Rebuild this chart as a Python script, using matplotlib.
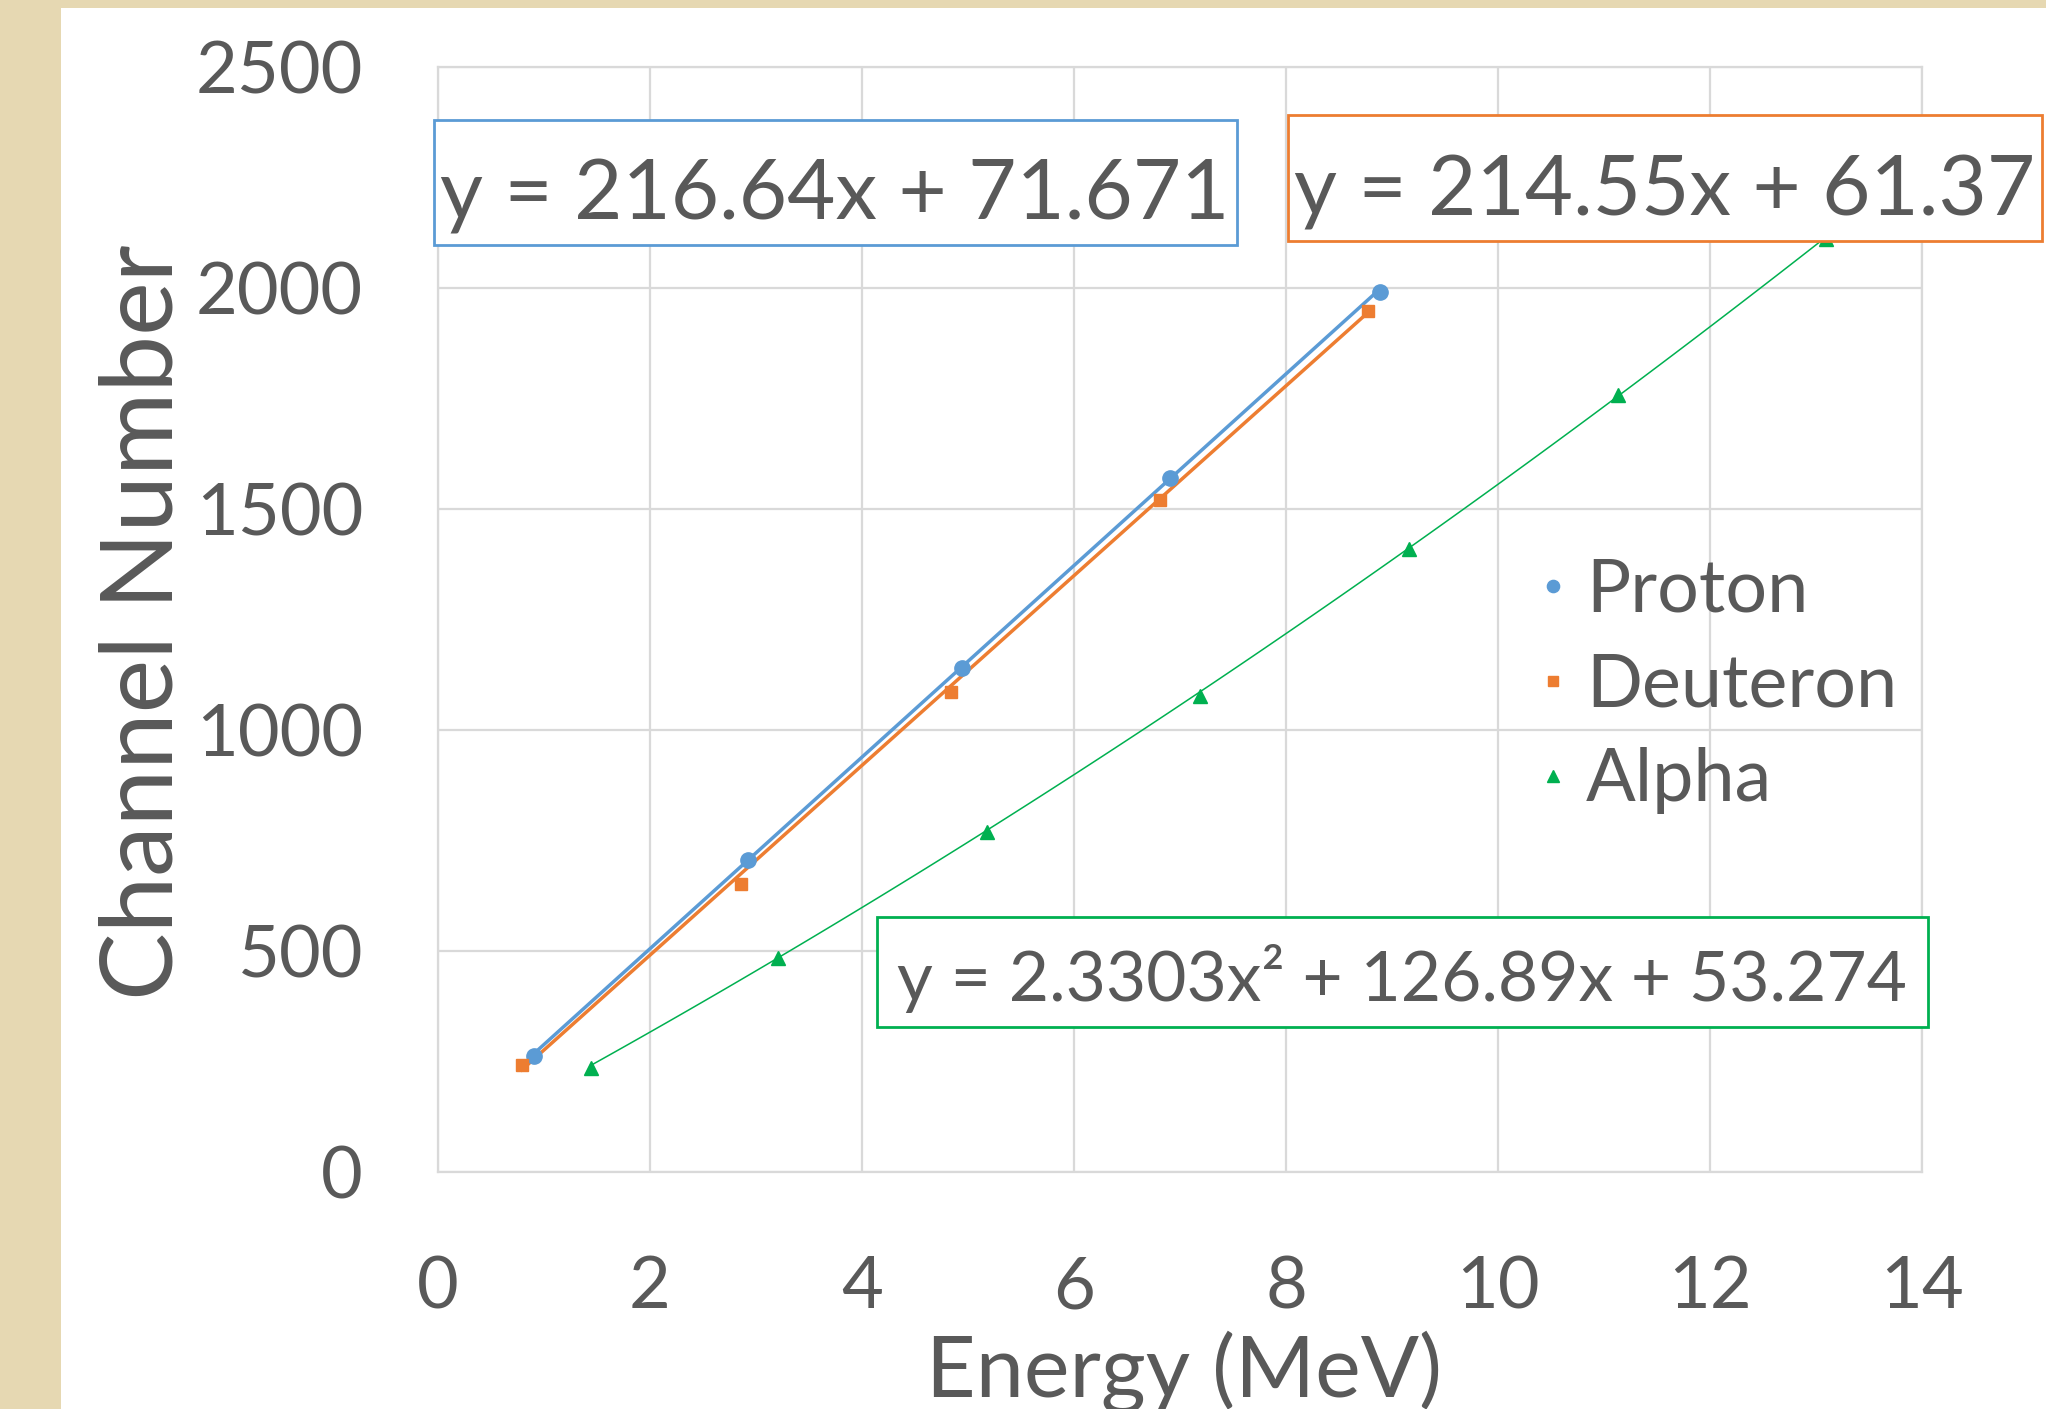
import matplotlib
matplotlib.use("Agg")
import matplotlib.pyplot as plt
from matplotlib.patches import Rectangle
import numpy as np

plt.rcParams['font.family'] = ['Lato', 'DejaVu Sans']

# ---- data ----
proton_E = [0.91, 2.92, 4.94, 6.91, 8.89]
proton_ch = [263, 705, 1139, 1570, 1989]
deuteron_E = [0.79, 2.86, 4.84, 6.81, 8.77]
deuteron_ch = [242, 652, 1086, 1520, 1948]
alpha_E = [1.44, 3.21, 5.18, 7.19, 9.16, 11.13, 13.09]
alpha_ch = [236, 484, 770, 1077, 1408, 1756, 2110]

proton_fit = [216.64, 71.671]
deuteron_fit = [214.55, 61.37]
alpha_fit = [2.3303, 126.89, 53.274]

series_names = ["Proton", "Deuteron", "Alpha"]
eq_texts = ["y = 216.64x + 71.671", "y = 214.55x + 61.37",
            "y = 2.3303x\u00b2 + 126.89x + 53.274"]
x_ticks = [0, 2, 4, 6, 8, 10, 12, 14]
y_ticks = [0, 500, 1000, 1500, 2000, 2500]

BLUE = "#5B9BD5"
ORANGE = "#ED7D31"
GREEN = "#00B050"
TXT = "#595959"
GRID = "#D9D9D9"
BEIGE = "#E6D8B2"

W, H = 2046, 1409
fig = plt.figure(figsize=(W / 100, H / 100), dpi=100)
fig.patch.set_facecolor("white")

# beige frame (left strip + top strip)
fig.patches.append(Rectangle((0, 0), 61 / W, 1, transform=fig.transFigure,
                             facecolor=BEIGE, edgecolor='none', zorder=0))
fig.patches.append(Rectangle((0, 1 - 8 / H), 1, 8 / H, transform=fig.transFigure,
                             facecolor=BEIGE, edgecolor='none', zorder=0))

ax = fig.add_axes([438 / W, 1 - 1172 / H, (1922 - 438) / W, (1172 - 66.5) / H])
ax.set_xlim(0, 14)
ax.set_ylim(0, 2500)
ax.set_xticks(x_ticks)
ax.set_yticks(y_ticks)
ax.grid(True, color=GRID, linewidth=1.6)
ax.set_axisbelow(True)
for s in ax.spines.values():
    s.set_color(GRID)
    s.set_linewidth(1.6)
ax.tick_params(length=0, labelsize=52, colors=TXT)
ax.tick_params(axis='x', pad=60)
ax.tick_params(axis='y', pad=54)

# trendlines
xp = np.linspace(min(proton_E), max(proton_E), 50)
ax.plot(xp, np.polyval(proton_fit, xp), color=BLUE, lw=2.5, zorder=2)
xd = np.linspace(min(deuteron_E), max(deuteron_E), 50)
ax.plot(xd, np.polyval(deuteron_fit, xd), color=ORANGE, lw=2.5, zorder=2)
xa = np.linspace(min(alpha_E), max(alpha_E), 100)
ax.plot(xa, np.polyval(alpha_fit, xa), color=GREEN, lw=1.1, zorder=2)

# markers
ax.plot(proton_E, proton_ch, 'o', color=BLUE, ms=11, mec=BLUE, ls='none',
        label=series_names[0], zorder=3)
ax.plot(deuteron_E, deuteron_ch, 's', color=ORANGE, ms=9, mec=ORANGE, ls='none',
        label=series_names[1], zorder=3)
ax.plot(alpha_E, alpha_ch, '^', color=GREEN, ms=10, mec=GREEN, ls='none',
        label=series_names[2], zorder=3)

leg = ax.legend(loc='center left', bbox_to_anchor=(1538 / W, 1 - 686 / H),
                bbox_transform=fig.transFigure, frameon=False, fontsize=53,
                handlelength=0.4, handletextpad=0.25, labelspacing=0.38,
                borderpad=0, borderaxespad=0, markerscale=0.8)
for t in leg.get_texts():
    t.set_color(TXT)

# labels
ax.set_xlabel("Energy (MeV)", fontsize=62, color=TXT)
ax.xaxis.set_label_coords(1184 / W, 1 - 1397 / H, transform=fig.transFigure)
ax.xaxis.label.set_va('baseline')
ax.set_ylabel("Channel Number", fontsize=73, color=TXT)
ax.yaxis.set_label_coords(173 / W, 1 - 622 / H, transform=fig.transFigure)
ax.yaxis.label.set_va('baseline')

# equation boxes
def eq_box(x0, x1, y0, y1, color, text, tx, ty, fs):
    fig.patches.append(Rectangle((x0 / W, 1 - y1 / H), (x1 - x0) / W, (y1 - y0) / H,
                                 transform=fig.transFigure, facecolor='white',
                                 edgecolor=color, linewidth=2.0, zorder=5))
    fig.text(tx / W, 1 - ty / H, text, fontsize=fs, color=TXT,
             ha='center', va='baseline', zorder=6)

eq_box(434, 1237, 120, 245, BLUE, eq_texts[0], 835, 219, 60)
eq_box(1288, 2042, 115, 241, ORANGE, eq_texts[1], 1665, 215, 60)
eq_box(877, 1928, 917, 1027, GREEN, eq_texts[2], 1402, 1001, 50)

fig.savefig("out.png", dpi=100)
